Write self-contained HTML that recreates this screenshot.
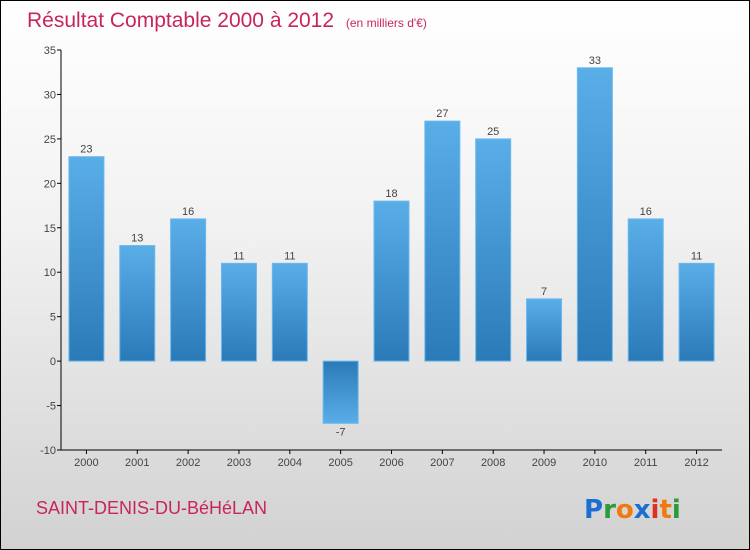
<!DOCTYPE html>
<html><head><meta charset="utf-8"><style>
body{margin:0;width:750px;height:550px;overflow:hidden;font-family:"Liberation Sans","DejaVu Sans",sans-serif}
#wrap{position:relative;width:748px;height:548px;border:1px solid #000;background:linear-gradient(#ffffff 0%,#f2f2f2 40%,#d2d2d2 100%)}
</style></head><body>
<div id="wrap">
<svg id="chart" width="748" height="548" style="position:absolute;left:0;top:0">
<defs>
<linearGradient id="gp" x1="0" y1="0" x2="0" y2="1"><stop offset="0" stop-color="#5aaee8"/><stop offset="1" stop-color="#2a7ab8"/></linearGradient>
<linearGradient id="gn" x1="0" y1="0" x2="0" y2="1"><stop offset="0" stop-color="#2a7ab8"/><stop offset="1" stop-color="#5aaee8"/></linearGradient>
</defs>
<text x="26" y="26" font-size="21" fill="#c8265a">Résultat Comptable 2000 à 2012 <tspan font-size="12" dx="6">(en milliers d'€)</tspan></text>
<text x="35" y="513" font-size="18" fill="#c8265a">SAINT-DENIS-DU-BéHéLAN</text>
<g font-size="26" font-weight="bold" font-family="'DejaVu Sans',sans-serif">
<text x="583" y="517" fill="#1a6fd0">P<tspan fill="#2a9a3a">r</tspan><tspan fill="#f07a10">o</tspan><tspan fill="#1a6fd0">x</tspan><tspan fill="#e03020">i</tspan><tspan fill="#f07a10">t</tspan><tspan fill="#2a9a3a">i</tspan></text>
</g>
<g id="plot"></g>
</svg>
</div>
<script>
const categories=["2000","2001","2002","2003","2004","2005","2006","2007","2008","2009","2010","2011","2012"];
const values=[23,13,16,11,11,-7,18,27,25,7,33,16,11];
const yTicks=[-10,-5,0,5,10,15,20,25,30,35];
const NS="http://www.w3.org/2000/svg";
const g=document.getElementById('plot');
const x0=60,x1=721,yTop=49,yBot=449,yMin=-10,yMax=35;
const step=(x1-x0)/categories.length;
function y(v){return yBot-(v-yMin)/(yMax-yMin)*(yBot-yTop);}
function xc(i){return x0+step*(i+0.5);}
function mk(tag,attrs){const e=document.createElementNS(NS,tag);for(const k in attrs)e.setAttribute(k,attrs[k]);g.appendChild(e);return e;}
let e=mk('line',{x1:x0,y1:yTop,x2:x0,y2:yBot,stroke:'#000'});


e=mk('line',{x1:x0,y1:yBot,x2:x1,y2:yBot,stroke:'#000'});


yTicks.forEach(t=>{
 const l=mk('line',{x1:x0-4,y1:y(t),x2:x0,y2:y(t),stroke:'#000'});
 
 
 const tx=mk('text',{x:x0-5,y:y(t)+4,'font-size':11,fill:'#444','text-anchor':'end'});
 tx.textContent=t;
 
 
});
categories.forEach((c,i)=>{
 const v=values[i],cx=xc(i),w=35;
 const top=v>=0?y(v):y(0),h=Math.abs(y(v)-y(0));
 const b=mk('rect',{x:cx-w/2,y:top,width:w,height:h,fill:v>=0?'url(#gp)':'url(#gn)',stroke:'#6bb8ee','stroke-width':1});
 
 
 const lb=mk('text',{x:cx,y:v>=0?y(v)-4:y(v)+12,'font-size':11,fill:'#444','text-anchor':'middle'});
 lb.textContent=v;
 
 
 const tk=mk('line',{x1:cx,y1:yBot,x2:cx,y2:yBot+4,stroke:'#000'});
 
 
 const xl=mk('text',{x:cx,y:yBot+16,'font-size':11,fill:'#444','text-anchor':'middle'});
 xl.textContent=c;
 
 
});
</script>
</body></html>
